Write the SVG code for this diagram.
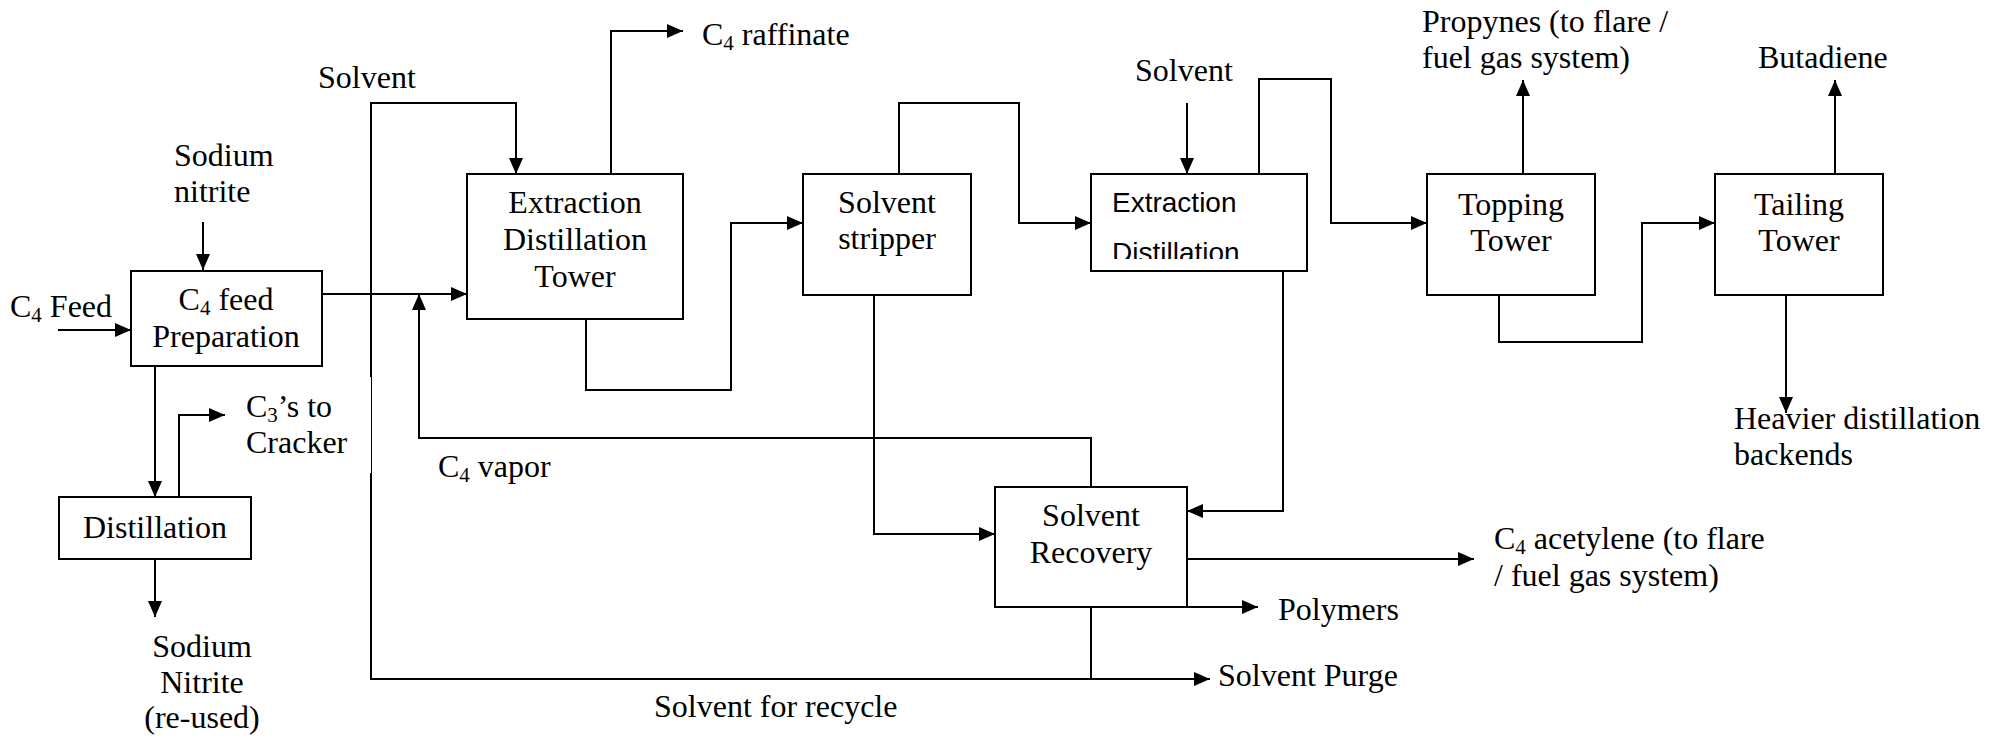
<svg xmlns="http://www.w3.org/2000/svg" width="1991" height="739" viewBox="0 0 1991 739">
<style>
.box{fill:#fff;stroke:#000;stroke-width:2}
.ln{fill:none;stroke:#000;stroke-width:2}
.thin{fill:none;stroke:#000;stroke-width:1}
.arr{marker-end:url(#ah)}
</style>
<defs>
<marker id="ah" markerUnits="userSpaceOnUse" markerWidth="16" markerHeight="14" refX="16" refY="7" orient="auto">
<path d="M0,0 L16,7 L0,14 z" fill="#000"/>
</marker>
<clipPath id="clipED2"><rect x="1091" y="174" width="216" height="85"/></clipPath>
</defs>
<rect width="1991" height="739" fill="#fff"/>

<g id="connectors">
<path class="ln arr" d="M58,330 H131"/>
<path class="ln arr" d="M203,222 V270"/>
<path class="ln arr" d="M322,294 H467"/>
<path class="ln arr" d="M371,377 V103 H516 V174"/>
<path class="thin" d="M371.5,377 V473"/>
<path class="ln" d="M371,473 V679"/>
<path class="ln arr" d="M611,174 V31 H683"/>
<path class="ln arr" d="M155,366 V497"/>
<path class="ln arr" d="M179,497 V415 H225"/>
<path class="ln arr" d="M155,559 V617"/>
<path class="ln arr" d="M1091,487 V438 H419 V294"/>
<path class="ln arr" d="M586,319 V390 H731 V223 H803"/>
<path class="ln arr" d="M899,174 V103 H1019 V223 H1091"/>
<path class="ln arr" d="M1187,103 V174"/>
<path class="ln arr" d="M1259,174 V79 H1331 V223 H1427"/>
<path class="ln arr" d="M874,295 V534 H995"/>
<path class="ln arr" d="M1283,271 V511 H1187"/>
<path class="ln arr" d="M1187,559 H1474"/>
<path class="ln arr" d="M1187,607 H1258"/>
<path class="ln" d="M1091,607 V679"/>
<path class="ln arr" d="M370,679 H1210"/>
<path class="ln arr" d="M1523,174 V80"/>
<path class="ln arr" d="M1499,295 V342 H1642 V223 H1715"/>
<path class="ln arr" d="M1835,174 V80"/>
<path class="ln arr" d="M1786,295 V413"/>
</g>

<g id="feed-prep">
<rect class="box" x="131" y="271" width="191" height="95"/>
<text x="226" y="310" text-anchor="middle" font-family="Liberation Serif, serif" font-size="32">C<tspan font-size="21" dy="5">4</tspan><tspan dy="-5"> feed</tspan></text>
<text x="226" y="347" text-anchor="middle" font-family="Liberation Serif, serif" font-size="32">Preparation</text>
</g>

<g id="distillation">
<rect class="box" x="59" y="497" width="192" height="62"/>
<text x="155" y="538" text-anchor="middle" font-family="Liberation Serif, serif" font-size="32">Distillation</text>
</g>

<g id="edt">
<rect class="box" x="467" y="174" width="216" height="145"/>
<text x="575" y="213" text-anchor="middle" font-family="Liberation Serif, serif" font-size="32">Extraction</text>
<text x="575" y="250" text-anchor="middle" font-family="Liberation Serif, serif" font-size="32">Distillation</text>
<text x="575" y="287" text-anchor="middle" font-family="Liberation Serif, serif" font-size="32">Tower</text>
</g>

<g id="stripper">
<rect class="box" x="803" y="174" width="168" height="121"/>
<text x="887" y="213" text-anchor="middle" font-family="Liberation Serif, serif" font-size="32">Solvent</text>
<text x="887" y="249" text-anchor="middle" font-family="Liberation Serif, serif" font-size="32">stripper</text>
</g>

<g id="ed2">
<rect class="box" x="1091" y="174" width="216" height="97"/>
<g clip-path="url(#clipED2)">
<text x="1112" y="212" font-family="Liberation Sans, sans-serif" font-size="28">Extraction</text>
<text x="1112" y="262" font-family="Liberation Sans, sans-serif" font-size="28">Distillation</text>
</g>
</g>

<g id="topping">
<rect class="box" x="1427" y="174" width="168" height="121"/>
<text x="1511" y="215" text-anchor="middle" font-family="Liberation Serif, serif" font-size="32">Topping</text>
<text x="1511" y="251" text-anchor="middle" font-family="Liberation Serif, serif" font-size="32">Tower</text>
</g>

<g id="tailing">
<rect class="box" x="1715" y="174" width="168" height="121"/>
<text x="1799" y="215" text-anchor="middle" font-family="Liberation Serif, serif" font-size="32">Tailing</text>
<text x="1799" y="251" text-anchor="middle" font-family="Liberation Serif, serif" font-size="32">Tower</text>
</g>

<g id="recovery">
<rect class="box" x="995" y="487" width="192" height="120"/>
<text x="1091" y="526" text-anchor="middle" font-family="Liberation Serif, serif" font-size="32">Solvent</text>
<text x="1091" y="563" text-anchor="middle" font-family="Liberation Serif, serif" font-size="32">Recovery</text>
</g>

<g id="labels">
<text x="10" y="317" font-family="Liberation Serif, serif" font-size="32">C<tspan font-size="21" dy="5">4</tspan><tspan dy="-5"> Feed</tspan></text>
<text x="174" y="166" font-family="Liberation Serif, serif" font-size="32">Sodium</text>
<text x="174" y="202" font-family="Liberation Serif, serif" font-size="32">nitrite</text>
<text x="318" y="88" font-family="Liberation Serif, serif" font-size="32">Solvent</text>
<text x="702" y="45" font-family="Liberation Serif, serif" font-size="32">C<tspan font-size="21" dy="5">4</tspan><tspan dy="-5"> raffinate</tspan></text>
<text x="246" y="417" font-family="Liberation Serif, serif" font-size="32">C<tspan font-size="21" dy="5">3</tspan><tspan dy="-5">’s to</tspan></text>
<text x="246" y="453" font-family="Liberation Serif, serif" font-size="32">Cracker</text>
<text x="202" y="657" text-anchor="middle" font-family="Liberation Serif, serif" font-size="32">Sodium</text>
<text x="202" y="693" text-anchor="middle" font-family="Liberation Serif, serif" font-size="32">Nitrite</text>
<text x="202" y="728" text-anchor="middle" font-family="Liberation Serif, serif" font-size="32">(re-used)</text>
<text x="438" y="477" font-family="Liberation Serif, serif" font-size="32">C<tspan font-size="21" dy="5">4</tspan><tspan dy="-5"> vapor</tspan></text>
<text x="1135" y="81" font-family="Liberation Serif, serif" font-size="32">Solvent</text>
<text x="1422" y="32" font-family="Liberation Serif, serif" font-size="32">Propynes (to flare /</text>
<text x="1422" y="68" font-family="Liberation Serif, serif" font-size="32">fuel gas system)</text>
<text x="1758" y="68" font-family="Liberation Serif, serif" font-size="32">Butadiene</text>
<text x="1734" y="429" font-family="Liberation Serif, serif" font-size="32">Heavier distillation</text>
<text x="1734" y="465" font-family="Liberation Serif, serif" font-size="32">backends</text>
<text x="1494" y="549" font-family="Liberation Serif, serif" font-size="32">C<tspan font-size="21" dy="5">4</tspan><tspan dy="-5"> acetylene (to flare</tspan></text>
<text x="1494" y="586" font-family="Liberation Serif, serif" font-size="32">/ fuel gas system)</text>
<text x="1278" y="620" font-family="Liberation Serif, serif" font-size="32">Polymers</text>
<text x="1218" y="686" font-family="Liberation Serif, serif" font-size="32">Solvent Purge</text>
<text x="654" y="717" font-family="Liberation Serif, serif" font-size="32">Solvent for recycle</text>
</g>
</svg>
